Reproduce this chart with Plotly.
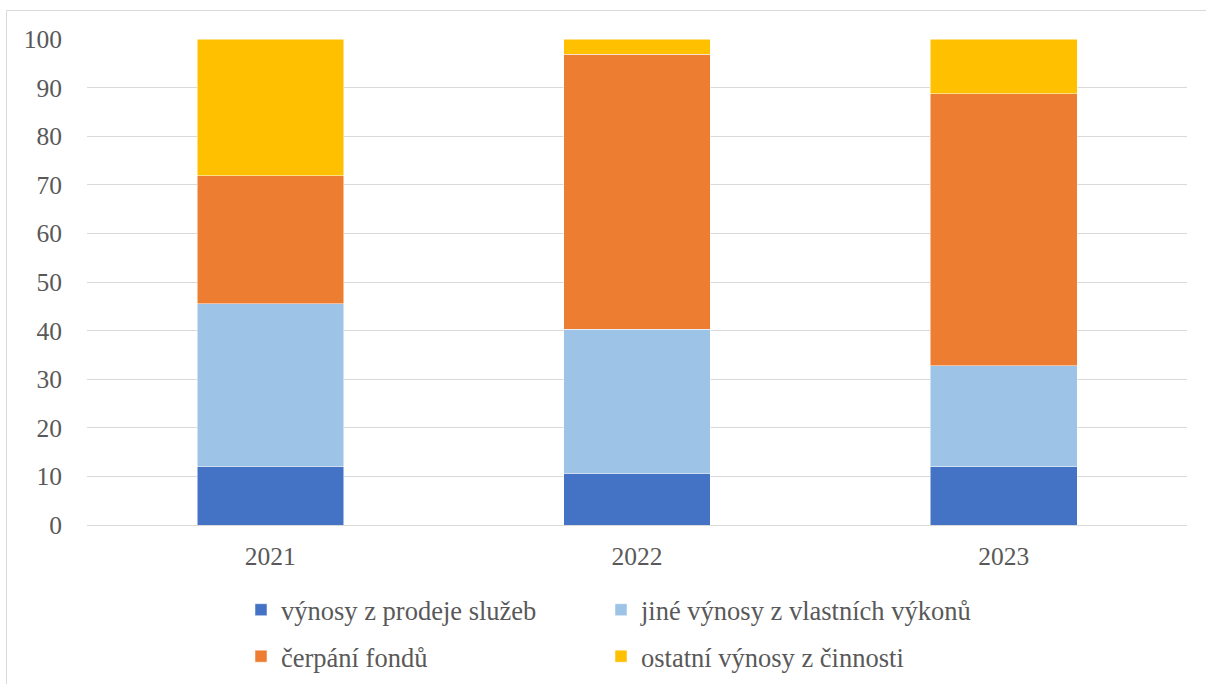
import plotly.graph_objects as go

years = ["2021", "2022", "2023"]
series_names = ["výnosy z prodeje služeb", "jiné výnosy z vlastních výkonů",
                "čerpání fondů", "ostatní výnosy z činnosti"]
prodej_sluzeb = [12.1, 10.6, 12.0]
jine_vynosy = [33.4, 29.7, 20.8]
cerpani_fondu = [26.4, 56.6, 55.9]
ostatni_vynosy = [28.1, 3.1, 11.3]
colors = ["#4472C4", "#9DC3E6", "#ED7D31", "#FFC000"]
y_ticks = [0, 10, 20, 30, 40, 50, 60, 70, 80, 90, 100]

W, H = 1206, 684
L, R, T, B = 87, 19, 39, 159
pw, ph = W - L - R, H - T - B

FAMILY = "'Liberation Serif', 'Times New Roman', Times, serif"
tick_font = dict(family=FAMILY, size=25.5, color="#595959")
leg_font = dict(family=FAMILY, size=26.5, color="#595959")

fig = go.Figure()
legend_ids = ["legend", "legend2", "legend", "legend2"]
for i, (name, vals, col) in enumerate(zip(series_names,
                           [prodej_sluzeb, jine_vynosy, cerpani_fondu, ostatni_vynosy],
                           colors)):
    fig.add_trace(go.Bar(x=years, y=vals, name=name, legend=legend_ids[i],
                         legendgroup="g%d" % i, hoverinfo="skip",
                         marker=dict(color=col, line=dict(color="white", width=0.5))))


def px_x(p):
    return (p - L) / pw


def px_y(p):
    return (H - B - p) / ph


leg_common = dict(orientation="v", yanchor="top", xanchor="left",
                  traceorder="grouped", tracegroupgap=9, font=leg_font,
                  itemclick=False, itemdoubleclick=False, bgcolor="rgba(0,0,0,0)")

fig.update_layout(
    width=W, height=H,
    margin=dict(l=L, r=R, t=T, b=B, autoexpand=False),
    barmode="stack", bargap=0.6,
    plot_bgcolor="white", paper_bgcolor="white",
    font=tick_font,
    showlegend=True,
    hovermode=False,
    legend=dict(x=px_x(241), y=px_y(586), **leg_common),
    legend2=dict(x=px_x(601), y=px_y(586), **leg_common),
    xaxis=dict(showgrid=False, showline=True, linecolor="#d9d9d9", linewidth=1,
               ticks="", tickfont=tick_font, ticklabelstandoff=8, fixedrange=True),
    yaxis=dict(range=[0, 100], tickvals=y_ticks, showgrid=True, gridcolor="#d9d9d9",
               gridwidth=1, zeroline=False, showline=False, ticks="", tickfont=tick_font,
               ticklabelstandoff=24, fixedrange=True),
    shapes=[dict(type="rect", xref="paper", yref="paper",
                 x0=px_x(6.5), x1=px_x(1215), y0=px_y(700), y1=px_y(10.5),
                 line=dict(color="#d9d9d9", width=1), fillcolor="rgba(0,0,0,0)",
                 layer="below")],
)

fig.write_html("out.html", config={"displayModeBar": False},
               post_script="document.body.style.margin='0';document.body.style.padding='0';")
